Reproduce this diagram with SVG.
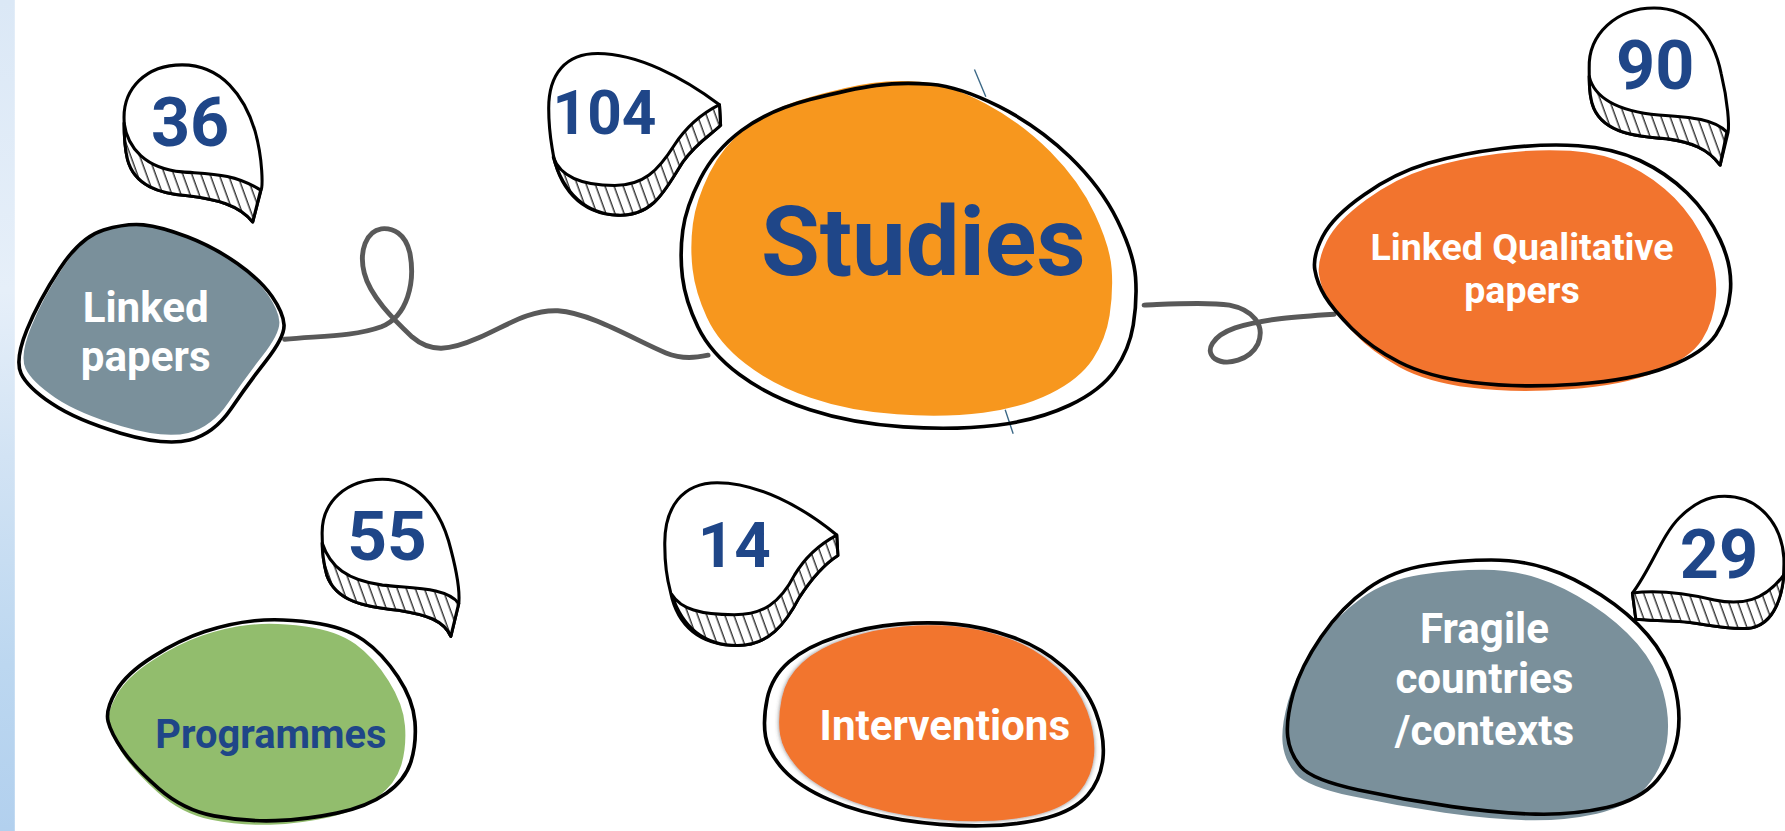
<svg xmlns="http://www.w3.org/2000/svg" width="1785" height="831" viewBox="0 0 1785 831">
<style>
.outline{fill:none;stroke:#000;stroke-width:3.2;stroke-linejoin:round}
.bub{fill:#fff;stroke:#000;stroke-width:2.7;stroke-linejoin:round}
.band{fill:url(#hatch);stroke:#000;stroke-width:2.7;stroke-linejoin:round}
.num{font-family:Roboto,"Liberation Sans",sans-serif;font-weight:700;fill:#1f4688;text-anchor:middle}
.lbl{font-family:Roboto,"Liberation Sans",sans-serif;font-weight:700;fill:#fff;text-anchor:middle}
.conn{fill:none;stroke:#595959;stroke-width:4.3;stroke-linecap:round;stroke-linejoin:round}
.gray{fill:#7a909b}
.orange{fill:#f2742e}
.deco{stroke:#3b6886;stroke-width:1.2;fill:none}
</style>
<defs>
<pattern id="hatch" width="7.5" height="7.5" patternUnits="userSpaceOnUse" patternTransform="rotate(-20)">
<rect width="7.5" height="7.5" fill="#fff"/>
<line x1="1" y1="0" x2="1" y2="7.5" stroke="#000" stroke-width="1"/>
</pattern>
<linearGradient id="strip" x1="0" y1="0" x2="0" y2="1">
<stop offset="0" stop-color="#dbe8f6"/>
<stop offset="0.35" stop-color="#e6eff9"/>
<stop offset="0.55" stop-color="#d2e3f4"/>
<stop offset="0.8" stop-color="#bcd7f0"/>
<stop offset="1" stop-color="#b2d0ee"/>
</linearGradient>
<filter id="shadow" x="-10%" y="-10%" width="120%" height="120%">
<feDropShadow dx="0" dy="0" stdDeviation="2" flood-color="#444" flood-opacity="0.7"/>
</filter>
<path id="b1" d="M91,202 Q111,196 126,197.5 Q141,199 164.5,208 Q188,217 208.5,231.5 Q229,246 239,260.5 Q249,275 249.5,285.5 Q250,296 234,316.5 Q218,337 203,359 Q188,381 166.5,386.5 Q145,392 106,380.5 Q67,369 45.5,354.5 Q24,340 18.5,328 Q13,316 23.5,290 Q34,264 52.5,236 Q71,208 91,202 Z"/>
<path id="b2" d="M599.5,243.5 Q597,223 599.8,202.3 Q602.6,181.6 615.3,156.8 Q628,132 651.5,114.5 Q675,97 711.5,87.5 Q748,78 770,75 Q792,72 817.5,74 Q843,76 877.5,93.5 Q912,111 939.5,137.5 Q967,164 981.5,193.5 Q996,223 997.5,243.5 Q999,264 995.5,285.5 Q992,307 979.5,325 Q967,343 939.5,356 Q912,369 875.5,373.5 Q839,378 793.5,375 Q748,372 711.5,360 Q675,348 649.5,329 Q624,310 613,287 Q602,264 599.5,243.5 Z"/>
<path id="b3" d="M1155,237 Q1153,225 1162,207.5 Q1171,190 1198.3,171 Q1225.5,152 1254.3,143.5 Q1283,135 1319.3,130.5 Q1355.6,126 1386.3,128 Q1417,130 1440.5,141 Q1464,152 1482,169.5 Q1500,187 1511,210.5 Q1522,234 1520,256 Q1518,278 1507.3,294 Q1496.5,310 1465.8,322 Q1435,334 1384.5,337.5 Q1334,341 1294,336 Q1254,331 1229,318 Q1204,305 1187.5,288.5 Q1171,272 1164,260.5 Q1157,249 1155,237 Z"/>
<path id="b4" d="M95,633.9 Q92.4,623.7 101.7,607.6 Q111,591.5 134.5,576.8 Q158,562 179.9,554.8 Q201.7,547.5 223.6,545.3 Q245.4,543 274,546.8 Q302.5,550.5 319.3,562.3 Q336,574 349.5,594.5 Q363,615 364.5,634 Q366,653 361,669 Q356,685 339.4,696.8 Q322.7,708.6 295.9,714.3 Q269,720 242,720.9 Q215,721.8 188,716.7 Q161,711.5 139.3,692.5 Q117.6,673.5 107.6,658.8 Q97.5,644 95,633.9 Z"/>
<path id="b5" d="M672.5,647.1 Q670,632.5 674,613.5 Q678,594.4 693.3,581.2 Q708.6,568 735.3,559.3 Q762,550.5 789,548.3 Q816,546 839.5,548.3 Q863,550.5 888.3,559.3 Q913.6,568 933.8,585.5 Q954,603 962.4,625 Q970.7,647 968.9,666 Q967,685 955.5,698.3 Q944,711.5 920.5,718.1 Q897,724.7 863.3,725.4 Q829.6,726 792.6,720.2 Q755.6,714.4 728.8,702.7 Q701.9,691 688.5,676.4 Q675,661.7 672.5,647.1 Z"/>
<path id="b6" d="M1131.2,647.1 Q1129.5,632.5 1136,609 Q1142.6,585.6 1160.6,559.3 Q1178.7,533 1201.6,516.9 Q1224.5,500.7 1254,496.3 Q1283.6,491.9 1309.8,491.9 Q1336,491.9 1358.9,499.3 Q1381.8,506.6 1406.4,522.7 Q1431,538.7 1447.4,557.8 Q1463.8,576.8 1470.4,600.3 Q1477,623.7 1473.8,645.7 Q1470.5,667.6 1455.8,685.2 Q1441,702.7 1411.4,709.4 Q1381.8,716 1349,715.2 Q1316.3,714.4 1275.4,708.6 Q1234.4,702.7 1193.4,693.9 Q1152.4,685 1142.6,673.4 Q1132.8,661.7 1131.2,647.1 Z"/>
</defs>
<rect width="1785" height="831" fill="#fff"/>
<g transform="scale(1.13839)">
<rect id="side-strip" x="0" y="0" width="13" height="730" fill="url(#strip)"/>

<g id="connectors">
<path class="conn" d="M250,298 C280,295 310,296 335,287 C358,278 365,248 360,222 C356,205 345,200 335,201 C322,203 315,220 320,240 C325,260 345,280 362,296 C378,310 395,308 420,297 C445,286 465,272 490,273 C520,275 560,300 585,310 C600,316 612,314 622,312"/>
<path class="conn" d="M1005,268 C1030,267 1060,265 1080,268 C1100,272 1112,285 1105,302 C1098,316 1078,322 1067,315 C1058,308 1065,295 1085,288 C1110,280 1140,278 1172,276"/>
</g>

<g id="node-linked-papers">
<use href="#b1" class="gray" transform="translate(132,291) scale(0.965) translate(-132,-294)"/>
<use href="#b1" class="outline"/>
<text class="lbl" x="128" y="283" font-size="37">Linked</text>
<text class="lbl" x="128" y="326" font-size="37">papers</text>
<g id="count-36">
<path class="bub" d="M109,105 C108,78 128,57 160,57 C195,57 215,85 224,115 C231,140 231,165 229,168 L222,195 C210,180 190,175 165,172 C140,170 118,163 112,140 C109,128 109,115 109,105 Z"/>
<path class="band" d="M109,108 C112,130 128,148 160,151 C185,153 205,152 229,167 L222,195 C210,180 190,175 165,172 C140,170 118,163 112,140 C109,128 109,115 109,108 Z"/>
<text class="num" x="167" y="128" font-size="60">36</text>
</g>
</g>

<g id="node-studies">
<line class="deco" x1="856" y1="61" x2="866" y2="85"/>
<line class="deco" x1="883" y1="360" x2="890" y2="381"/>
<use href="#b2" fill="#f7971e" transform="translate(792,218.5) scale(0.925,0.97) translate(-798,-225)"/>
<use href="#b2" class="outline"/>
<text class="num" x="811" y="242" font-size="84">Studies</text>
<g id="count-104">
<path class="bub" d="M482,95 C482,65 497,47 525,47 C560,47 600,68 632,92 L633,110 C625,118 612,125 600,142 C585,165 575,190 543,189 C510,188 490,165 485,130 C483,118 482,105 482,95 Z"/>
<path class="band" d="M486,138 C492,155 510,163 540,163 C565,163 578,150 592,128 C605,108 620,98 632,92 L633,110 C625,118 612,125 600,142 C585,165 575,190 543,189 C515,188 495,170 486,138 Z"/>
<text class="num" x="531" y="118" font-size="53">104</text>
</g>
</g>

<g id="node-linked-qualitative">
<use href="#b3" class="orange" transform="translate(1333,238) scale(0.955,1) translate(-1337.5,-233.5)"/>
<use href="#b3" class="outline"/>
<text class="lbl" x="1337" y="228" font-size="33">Linked Qualitative</text>
<text class="lbl" x="1337" y="266" font-size="33">papers</text>
<g id="count-90">
<path class="bub" d="M1396,60 C1395,30 1420,7 1453,7 C1485,7 1505,30 1512,65 C1518,90 1519,110 1518,116 L1511,145 C1500,130 1485,125 1465,122 C1440,120 1410,118 1400,95 C1396,85 1396,72 1396,60 Z"/>
<path class="band" d="M1396,67 C1400,85 1420,98 1457,101 C1485,103 1505,104 1517,116 L1511,145 C1500,130 1485,125 1465,122 C1440,120 1410,118 1400,95 C1397,88 1396,78 1396,67 Z"/>
<text class="num" x="1454" y="78" font-size="60">90</text>
</g>
</g>

<g id="node-programmes">
<use href="#b4" fill="#92bd6d" transform="translate(225,636) scale(0.965,1) translate(-229,-632.5)"/>
<use href="#b4" class="outline"/>
<text class="num" x="238" y="657" font-size="35">Programmes</text>
<g id="count-55">
<path class="bub" d="M283,470 C282,440 305,421 336,421 C365,421 385,445 394,475 C401,500 404,520 403,530 L396,559 C390,545 375,540 350,536 C320,533 295,528 287,505 C284,495 283,482 283,470 Z"/>
<path class="band" d="M283,477 C290,498 305,510 336,514 C365,517 392,516 403,530 L396,559 C390,545 375,540 350,536 C320,533 295,528 287,505 C285,497 283,487 283,477 Z"/>
<text class="num" x="340" y="492" font-size="61">55</text>
</g>
</g>

<g id="node-interventions">
<use href="#b5" class="orange" filter="url(#shadow)" transform="translate(822.5,635) scale(0.93,0.965) translate(-820,-636)"/>
<use href="#b5" class="outline"/>
<text class="lbl" x="830" y="650" font-size="37">Interventions</text>
<g id="count-14">
<path class="bub" d="M584,480 C583,445 600,424 630,424 C665,424 705,445 735,470 L736,488 C725,495 715,505 702,525 C690,548 675,567 648,567 C615,567 595,550 589,520 C585,505 584,492 584,480 Z"/>
<path class="band" d="M590,522 C598,535 615,540 645,540 C670,540 685,530 698,505 C708,488 722,477 735,470 L736,488 C725,495 715,505 702,525 C690,548 675,567 648,567 C620,567 600,553 590,522 Z"/>
<text class="num" x="645" y="498" font-size="56">14</text>
</g>
</g>

<g id="node-fragile">
<use href="#b6" class="gray" transform="translate(1296,611) scale(0.985) translate(-1303,-604)"/>
<use href="#b6" class="outline"/>
<text class="lbl" x="1304" y="565" font-size="37">Fragile</text>
<text class="lbl" x="1304" y="609" font-size="37">countries</text>
<text class="lbl" x="1304" y="654" font-size="37">/contexts</text>
<g id="count-29">
<path class="bub" d="M1434,521 C1450,500 1460,470 1475,455 C1488,442 1500,436 1515,436 C1545,436 1565,460 1567,490 C1568,520 1560,550 1535,552 C1510,553 1495,547 1475,546 C1460,545 1447,545 1437,544 Z"/>
<path class="band" d="M1434,521 C1455,518 1480,521 1506,527 C1530,532 1550,528 1567,505 C1565,530 1555,550 1535,552 C1510,553 1495,547 1475,546 C1460,545 1447,545 1437,544 Z"/>
<text class="num" x="1510" y="508" font-size="60">29</text>
</g>
</g>
</g>
</svg>
